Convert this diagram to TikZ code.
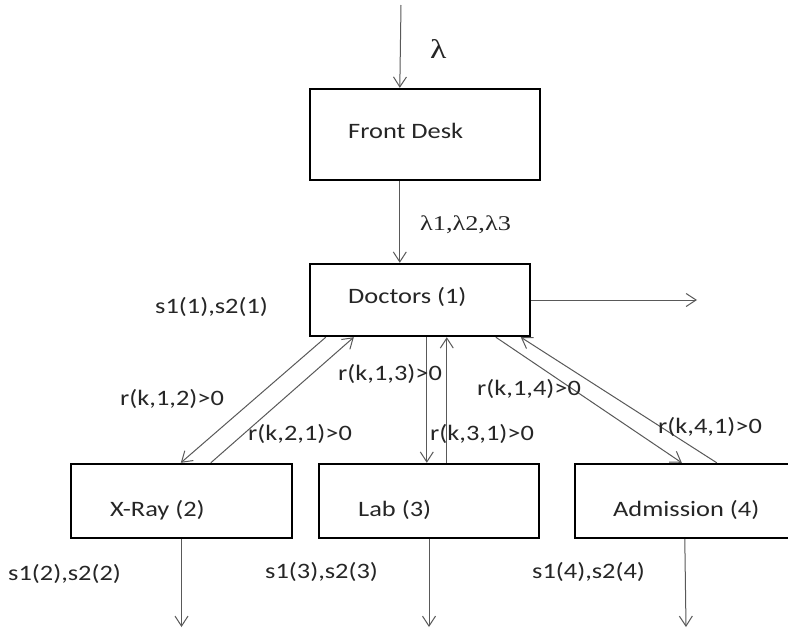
\documentclass[tikz,border=0pt]{standalone}
\usepackage{fontspec}
\setmainfont{Carlito}[FakeStretch=1.2]
\newfontfamily\symf{Liberation Serif}[FakeStretch=1.25]
\usetikzlibrary{arrows.meta}
\begin{document}
\begin{tikzpicture}[x=1pt,y=-1pt,
  box/.style={draw=black, line width=2.4pt, inner sep=0pt},
  txt/.style={anchor=base west, inner sep=0pt, text=black!85,
    font=\fontsize{22}{26}\selectfont},
  sym/.style={anchor=base west, inner sep=0pt, text=black!85,
    font=\symf\fontsize{21}{25}\selectfont},
  conn/.style={draw=black!65, line width=1pt,
    -{Straight Barb[length=10pt,width=13pt,line width=1pt]}}]
\useasboundingbox (0,0) rectangle (788,632);
\fill[white] (0,0) rectangle (788,632);
% boxes
\node[box, minimum width=230pt, minimum height=91pt] (fd) at (425,134.5) {};
\node[box, minimum width=220pt, minimum height=72pt] (doc) at (420,300) {};
\node[box, minimum width=221pt, minimum height=74pt] (xr) at (181.5,501) {};
\node[box, minimum width=220pt, minimum height=74pt] (lab) at (429,501) {};
\node[box, minimum width=220pt, minimum height=74pt] (adm) at (685,501) {};
% box texts
\node[txt] (fdt) at (348,138) {Front Desk};
\node[txt] (doct) at (348,303) {Doctors (1)};
\node[txt] (xrt) at (110,516) {X-Ray (2)};
\node[txt] (labt) at (358,516) {Lab (3)};
\node[txt] (admt) at (613,516) {Admission (4)};
% free ends
\coordinate (in) at (401,5);
\coordinate (out) at (697,300);
\coordinate (xrout) at (181.5,627);
\coordinate (labout) at (429,627);
\coordinate (admout) at (686,627);
% connectors
\draw[conn] (in) -- ([xshift=91pt]fd.north west);
\draw[conn] ([xshift=91pt]fd.south west) -- ([xshift=91pt]doc.north west);
\draw[conn] (doc.east) -- (out);
\draw[conn] ([xshift=17pt]doc.south west) -- ([xshift=111pt]xr.north west);
\draw[conn] ([xshift=141pt]xr.north west) -- ([xshift=45pt]doc.south west);
\draw[conn] ([xshift=118pt]doc.south west) -- ([xshift=109pt]lab.north west);
\draw[conn] ([xshift=129pt]lab.north west) -- ([xshift=138pt]doc.south west);
\draw[conn] ([xshift=187pt]doc.south west) -- ([xshift=108pt]adm.north west);
\draw[conn] ([xshift=143pt]adm.north west) -- ([xshift=212pt]doc.south west);
\draw[conn] (xr.south) -- (xrout);
\draw[conn] (lab.south) -- (labout);
\draw[conn] ([xshift=111pt]adm.south west) -- (admout);
% labels
\node[sym, font=\symf\fontsize{27}{30}\selectfont] (lam) at (430,58) {λ};
\node[sym] (lam123) at (420,230) {λ1,λ2,λ3};
\node[txt] (s11) at (155,313) {s1(1),s2(1)};
\node[txt] (r12) at (120,405) {r(k,1,2)>0};
\node[txt] (r21) at (248,440) {r(k,2,1)>0};
\node[txt] (r13) at (338,380) {r(k,1,3)>0};
\node[txt] (r31) at (430,440) {r(k,3,1)>0};
\node[txt] (r14) at (477,395) {r(k,1,4)>0};
\node[txt] (r41) at (658,433) {r(k,4,1)>0};
\node[txt] (s12) at (8,580) {s1(2),s2(2)};
\node[txt] (s13) at (265,578) {s1(3),s2(3)};
\node[txt] (s14) at (532,578) {s1(4),s2(4)};
\end{tikzpicture}
\end{document}
